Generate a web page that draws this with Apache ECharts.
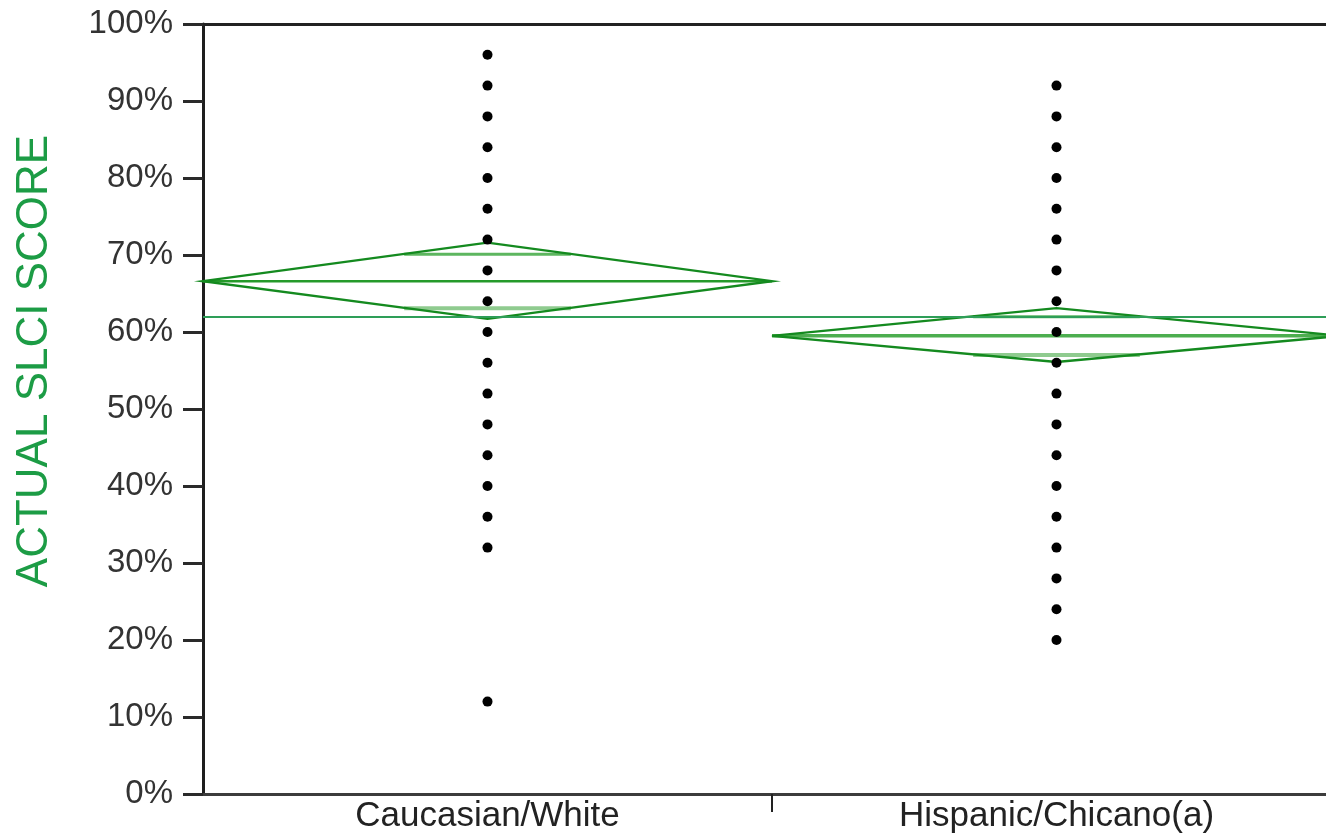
<!DOCTYPE html>
<html>
<head>
<meta charset="utf-8">
<script src="https://cdn.jsdelivr.net/npm/echarts@6/dist/echarts.min.js"></script>
<style>html,body{margin:0;padding:0;background:#fff;}#chart{width:1326px;height:834px;}</style>
</head>
<body>
<div id="chart"></div>
<script>
const categories = ['Caucasian/White', 'Hispanic/Chicano(a)'];
const caucasianScores = [96, 92, 88, 84, 80, 76, 72, 68, 64, 60, 56, 52, 48, 44, 40, 36, 32, 12];
const hispanicScores = [92, 88, 84, 80, 76, 72, 68, 64, 60, 56, 52, 48, 44, 40, 36, 32, 28, 24, 20];
// [category index, mean, lower 95% CI, upper 95% CI]
const groupMeans = [
  [0, 66.6, 61.7, 71.6],
  [1, 59.5, 56.1, 63.1]
];
const grandMean = 62.0;
const yTicks = { min: 0, max: 100, interval: 10 };

const FONT = "'Liberation Sans', Arial, sans-serif";
const meanStyles = [
  { stroke: '#259a2a', lineWidth: 2.5 },
  { stroke: '#4cae4f', lineWidth: 3.5 }
];

function renderDiamond(params, api) {
  const c = api.value(0), mean = api.value(1), lo = api.value(2), hi = api.value(3);
  const ctr = api.coord([c, mean]);
  const half = api.size([1, 0])[0] / 2;
  const top = api.coord([c, hi]);
  const bot = api.coord([c, lo]);
  const x0 = ctr[0] - half, x1 = ctr[0] + half;
  const ov = (hi - lo) / 2 / Math.SQRT2;
  const ovU = api.coord([c, mean + ov]);
  const ovL = api.coord([c, mean - ov]);
  const ow = half * (1 - 1 / Math.SQRT2);
  const ms = meanStyles[params.dataIndex % meanStyles.length];
  return {
    type: 'group',
    children: [
      { type: 'line', shape: { x1: ctr[0] - ow, y1: ovU[1], x2: ctr[0] + ow, y2: ovU[1] }, style: { stroke: '#5db65f', lineWidth: 3 } },
      { type: 'line', shape: { x1: ctr[0] - ow, y1: ovL[1], x2: ctr[0] + ow, y2: ovL[1] }, style: { stroke: '#8fcb8f', lineWidth: 4 } },
      { type: 'line', shape: { x1: x0, y1: ctr[1], x2: x1, y2: ctr[1] }, style: ms },
      { type: 'polygon', shape: { points: [[x0, ctr[1]], [ctr[0], top[1]], [x1, ctr[1]], [ctr[0], bot[1]]] },
        style: { fill: 'none', stroke: '#148a1f', lineWidth: 2.4 } }
    ]
  };
}

const chart = echarts.init(document.getElementById('chart'), null, { renderer: 'canvas' });
chart.setOption({
  animation: false,
  backgroundColor: '#fff',
  grid: { left: 203, right: -15, top: 24, bottom: 40, containLabel: false, outerBoundsMode: 'none' },
  xAxis: [
    {
      type: 'category', data: categories, boundaryGap: true, position: 'bottom',
      axisLine: { show: true, lineStyle: { color: '#3c3c3c', width: 3 } },
      axisTick: { show: false },
      axisLabel: { color: '#222', fontSize: 35, fontFamily: FONT, margin: 5 },
      splitLine: { show: false }
    },
    {
      type: 'category', data: categories, position: 'top',
      axisLine: { show: true, lineStyle: { color: '#222', width: 3 } },
      axisTick: { show: false }, axisLabel: { show: false }, splitLine: { show: false }
    },
    {
      type: 'value', min: 0, max: categories.length, position: 'bottom',
      axisLine: { show: false },
      axisTick: { show: true, length: 18, customValues: [1], lineStyle: { color: '#222', width: 2 } },
      axisLabel: { show: false }, splitLine: { show: false }
    }
  ],
  yAxis: {
    type: 'value', min: yTicks.min, max: yTicks.max, interval: yTicks.interval,
    axisLine: { show: true, lineStyle: { color: '#1e1e1e', width: 3 } },
    axisTick: { show: true, length: 20, lineStyle: { color: '#2a2a2a', width: 3 } },
    axisLabel: { color: '#333', fontSize: 33, fontFamily: FONT, margin: 30, formatter: '{value}%' },
    splitLine: { show: false }
  },
  graphic: [
    {
      type: 'text', x: 35, y: 361, rotation: Math.PI / 2,
      style: { text: 'ACTUAL SLCI SCORE', fill: '#1c9c45', font: "44px 'Liberation Sans', Arial, sans-serif",
        align: 'center', verticalAlign: 'middle' }
    }
  ],
  series: [
    {
      type: 'custom', renderItem: renderDiamond, data: groupMeans, z: 2,
      encode: { x: 0, y: [1, 2, 3] },
      markLine: {
        silent: true, symbol: ['none', 'none'], label: { show: false },
        lineStyle: { color: '#2e9e58', width: 2.2, type: 'solid' },
        data: [{ yAxis: grandMean }]
      }
    },
    {
      type: 'scatter', symbol: 'circle', symbolSize: 10, z: 5,
      itemStyle: { color: '#000', opacity: 1 },
      data: caucasianScores.map(v => [0, v])
    },
    {
      type: 'scatter', symbol: 'circle', symbolSize: 10, z: 5,
      itemStyle: { color: '#000', opacity: 1 },
      data: hispanicScores.map(v => [1, v])
    }
  ]
});
</script>
</body>
</html>
